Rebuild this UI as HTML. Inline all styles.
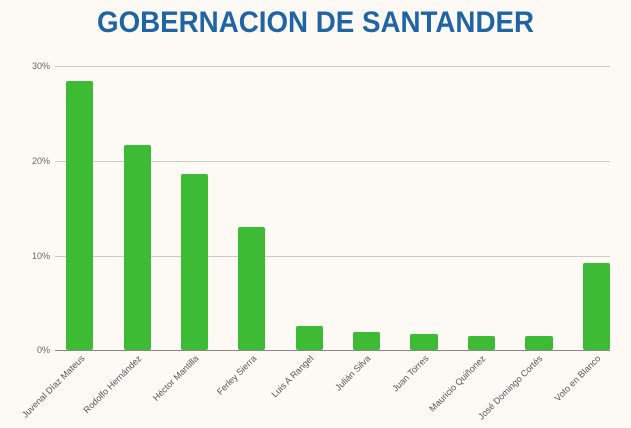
<!DOCTYPE html>
<html><head><meta charset="utf-8"><style>
html,body{margin:0;padding:0;background:#fdfaf5;}
svg{display:block}
</style></head><body>
<svg width="631" height="428" xmlns="http://www.w3.org/2000/svg">
<rect width="631" height="428" fill="#fdfaf5"/>
<text x="97" y="32" textLength="437" lengthAdjust="spacingAndGlyphs" font-family="Liberation Sans, sans-serif" font-weight="bold" font-size="30" fill="#1e64a6">GOBERNACION DE SANTANDER</text>
<g stroke="#cfccc6" stroke-width="1">
<line x1="55" y1="66.5" x2="610" y2="66.5"/>
<line x1="55" y1="161.5" x2="610" y2="161.5"/>
<line x1="55" y1="256.5" x2="610" y2="256.5"/>
</g>
<g font-family="Liberation Sans, sans-serif" font-size="9" fill="#666" text-anchor="end">
<text x="50" y="69">30%</text>
<text x="50" y="164">20%</text>
<text x="50" y="259">10%</text>
<text x="50" y="353">0%</text>
</g>
<g fill="#3dbb35">
<rect x="66" y="81" width="27" height="269" rx="2"/>
<rect x="124" y="145" width="27" height="205" rx="2"/>
<rect x="181" y="174" width="27" height="176" rx="2"/>
<rect x="238" y="227" width="27" height="123" rx="2"/>
<rect x="296" y="326" width="27" height="24" rx="2"/>
<rect x="353" y="332" width="27" height="18" rx="2"/>
<rect x="410" y="334" width="28" height="16" rx="2"/>
<rect x="468" y="336" width="27" height="14" rx="2"/>
<rect x="525" y="336" width="28" height="14" rx="2"/>
<rect x="583" y="263" width="27" height="87" rx="2"/>
</g>
<line x1="55" y1="350.5" x2="610" y2="350.5" stroke="#888" stroke-width="1"/>
<g font-family="Liberation Sans, sans-serif" font-size="9" fill="#555" text-anchor="end">
<text transform="translate(85,359) rotate(-45)">Juvenal Díaz Mateus</text>
<text transform="translate(142,359) rotate(-45)">Rodolfo Hernández</text>
<text transform="translate(199,359) rotate(-45)">Héctor Mantilla</text>
<text transform="translate(257,359) rotate(-45)">Ferley Sierra</text>
<text transform="translate(314,359) rotate(-45)">Luis A Rangel</text>
<text transform="translate(371,359) rotate(-45)">Julián Silva</text>
<text transform="translate(429,359) rotate(-45)">Juan Torres</text>
<text transform="translate(486,359) rotate(-45)">Mauricio Quiñonez</text>
<text transform="translate(543,359) rotate(-45)">José Domingo Cortés</text>
<text transform="translate(601,359) rotate(-45)">Voto en Blanco</text>
</g>
</svg>
</body></html>
